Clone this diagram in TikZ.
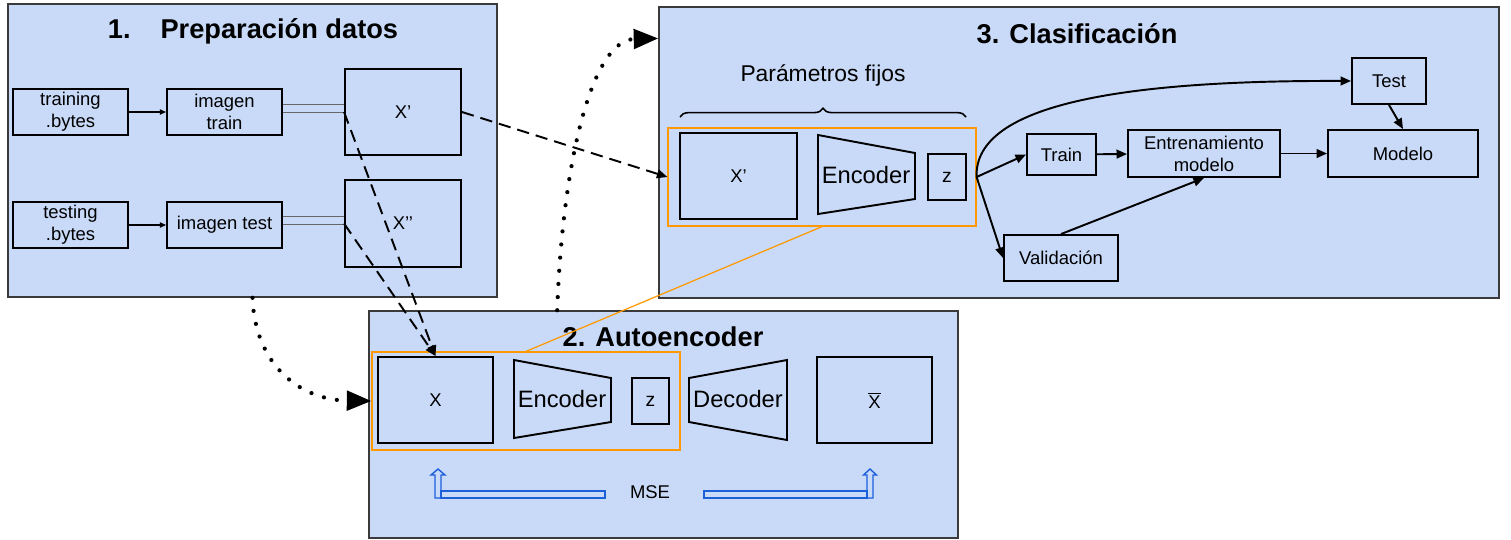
\documentclass[tikz,border=0pt]{standalone}
\usepackage{fontspec}
\setmainfont{Liberation Sans}
\usetikzlibrary{arrows.meta,calc,decorations.pathreplacing}
\definecolor{panelblue}{HTML}{C9DAF8}
\definecolor{paneledge}{HTML}{3A3A3A}
\definecolor{frameorange}{HTML}{FF9900}
\definecolor{msecolor}{HTML}{1C5FDB}
\definecolor{feedgray}{HTML}{666666}

\begin{document}
\begin{tikzpicture}[x=0.02cm, y=-0.02cm,
    panel/.style={draw=paneledge, line width=0.9pt, fill=panelblue, inner sep=0pt},
    box/.style={draw, line width=1.1pt, align=center, inner sep=0pt, font=\fontsize{10.5}{12.5}\selectfont},
    frame/.style={draw=frameorange, line width=0.7pt, inner sep=0pt},
    flow/.style={line width=1.1pt, -{Triangle[length=6pt,width=5pt]}},
    dashflow/.style={line width=1.1pt, dash pattern=on 7pt off 4pt, -{Triangle[length=6pt,width=5pt]}},
    dotflow/.style={line width=2.4pt, line cap=round, dash pattern=on 0pt off 7.5pt, -{Triangle[length=14pt,width=11pt]}},
    feed/.style={feedgray, line width=0.5pt},
    title/.style={font=\fontsize{15.5}{18}\selectfont\bfseries},
    big/.style={font=\fontsize{13.5}{16}\selectfont},
    mse/.style={draw=msecolor, line width=0.8pt}]
        \useasboundingbox (0,0) rectangle (1511,539);

        % Panels
        \node[panel, minimum width=9.78cm, minimum height=5.86cm] (prep) at (252.5,150.5) {};
        \node[panel, minimum width=16.8cm, minimum height=5.82cm] (clas) at (1079,152.5) {};
        \node[panel, minimum width=11.78cm, minimum height=4.54cm] (auto) at (663.5,424.5) {};
        \node[title] (tprep) at (253,31) {1.\hspace{1.1em}Preparación datos};
        \node[title] (tclas) at (1077,34) {3. Clasificación};
        \node[title] (tauto) at (663,337) {2. Autoencoder};

        % 1. Preparacion datos
        \node[box, minimum width=2.3cm, minimum height=0.92cm] (trainb) at (70.5,112) {training\\.bytes};
        \node[box, minimum width=2.3cm, minimum height=0.92cm] (imgtrain) at (224.5,112) {imagen\\train};
        \node[box, minimum width=2.32cm, minimum height=1.72cm] (xp) at (403,112) {X’};
        \node[box, minimum width=2.3cm, minimum height=0.92cm] (testb) at (70.5,225) {testing\\.bytes};
        \node[box, minimum width=2.3cm, minimum height=0.92cm] (imgtest) at (224.5,225) {imagen test};
        \node[box, minimum width=2.32cm, minimum height=1.74cm] (xpp) at (403,223.5) {X’’};

        \draw[line width=0.6pt, -{Triangle[length=3.5pt,width=3pt]}] (trainb) -- (imgtrain);
        \draw[line width=0.6pt, -{Triangle[length=3.5pt,width=3pt]}] (testb) -- (imgtest);
        \draw[feed] ([yshift=4.5pt]imgtrain.east) -- ([yshift=4.5pt]imgtrain.east -| xp.west);
        \draw[feed] (imgtrain.east) -- (xp.west);
        \draw[feed] ([yshift=5pt]imgtest.east) -- ([yshift=5pt]imgtest.east -| xpp.west);
        \draw[feed] ([yshift=0.5pt]imgtest.east) -- ([yshift=0.5pt]imgtest.east -| xpp.west);

        % 2. Autoencoder
        \node[frame, minimum width=6.16cm, minimum height=1.96cm] (trained) at (526,401) {};
        \node[box, minimum width=2.3cm, minimum height=1.72cm] (xa) at (435.5,400) {X};
        \draw[line width=1.1pt] (514,360) -- (611,378) -- (611,422) -- (514,438) -- cycle;
        \node[big] (enca) at (562,399) {Encoder};
        \node[box, minimum width=0.74cm, minimum height=0.92cm, font=\fontsize{11}{13}\selectfont] (za) at (650.5,401) {z};
        \draw[line width=1.1pt] (689,378) -- (787,360) -- (787,440) -- (689,422) -- cycle;
        \node[big] (deca) at (738,399) {Decoder};
        \node[box, minimum width=2.3cm, minimum height=1.72cm] (xbar) at (874.5,400) {$\overline{\hbox{X}}$};

        % MSE
        \node[font=\fontsize{10.5}{12.5}\selectfont] (mse) at (650,492) {MSE};
        \draw[mse] (441,491) rectangle (605,498);
        \draw[mse] (435,498) -- (435,475) -- (431,475) -- (438,469) -- (445,475) -- (441,475) -- (441,498) -- cycle;
        \draw[mse] (704,491) rectangle (867,498);
        \draw[mse] (867,498) -- (867,475) -- (863.5,475) -- (870,469) -- (876.5,475) -- (873,475) -- (873,498) -- cycle;

        % 3. Clasificacion
        \node[font=\fontsize{13}{15}\selectfont] (fijos) at (823,75) {Parámetros fijos};
        \draw[line width=0.9pt, decorate, decoration={brace, amplitude=5pt}] (680,117) -- (966,117);
        \node[frame, minimum width=6.16cm, minimum height=1.96cm] (fixed) at (822,177) {};
        \node[box, minimum width=2.34cm, minimum height=1.72cm] (xc) at (738.5,176) {X’};
        \draw[line width=1.1pt] (818,135) -- (915,153) -- (915,199) -- (818,214) -- cycle;
        \node[big] (encc) at (866,175) {Encoder};
        \node[box, minimum width=0.76cm, minimum height=0.92cm, font=\fontsize{11}{13}\selectfont] (zc) at (947,177) {z};

        \node[box, minimum width=1.38cm, minimum height=0.82cm] (train) at (1061.5,154.5) {Train};
        \node[box, minimum width=3.04cm, minimum height=0.94cm] (entr) at (1204,153.5) {Entrenamiento\\modelo};
        \node[box, minimum width=3.0cm, minimum height=0.94cm] (modelo) at (1403,153.5) {Modelo};
        \node[box, minimum width=1.48cm, minimum height=0.92cm] (test) at (1389,81) {Test};
        \node[box, minimum width=2.28cm, minimum height=0.92cm] (val) at (1061,258) {Validación};

        \draw[flow] (fixed.east) -- (train.west);
        \draw[flow] (fixed.east) -- (val.west);
        \draw[flow] (fixed.east) .. controls (974,110) and (1100,80) .. (test.west);
        \draw[flow] (train) -- (entr);
        \draw[flow] (entr) -- (modelo);
        \draw[flow] (val.north) -- (entr.south);
        \draw[flow] (test.south) -- (modelo.north);

        % links between panels
        \draw[frameorange, line width=0.7pt] (fixed.south) -- (trained.north);
        \draw[dashflow] (xp.west) -- (xa.north);
        \draw[dashflow] (xpp.west) -- (xa.north);
        \draw[dashflow] (xp.east) -- (fixed.west);
        \draw[dotflow] (prep.south) .. controls (255,365) and (300,400) .. (trained.west);
        \draw[dotflow] ($(auto.north west)!0.32!(auto.north east)$) .. controls (562,170) and (590,40) .. ($(clas.north west)!0.11!(clas.south west)$);
      \end{tikzpicture}
\end{document}
